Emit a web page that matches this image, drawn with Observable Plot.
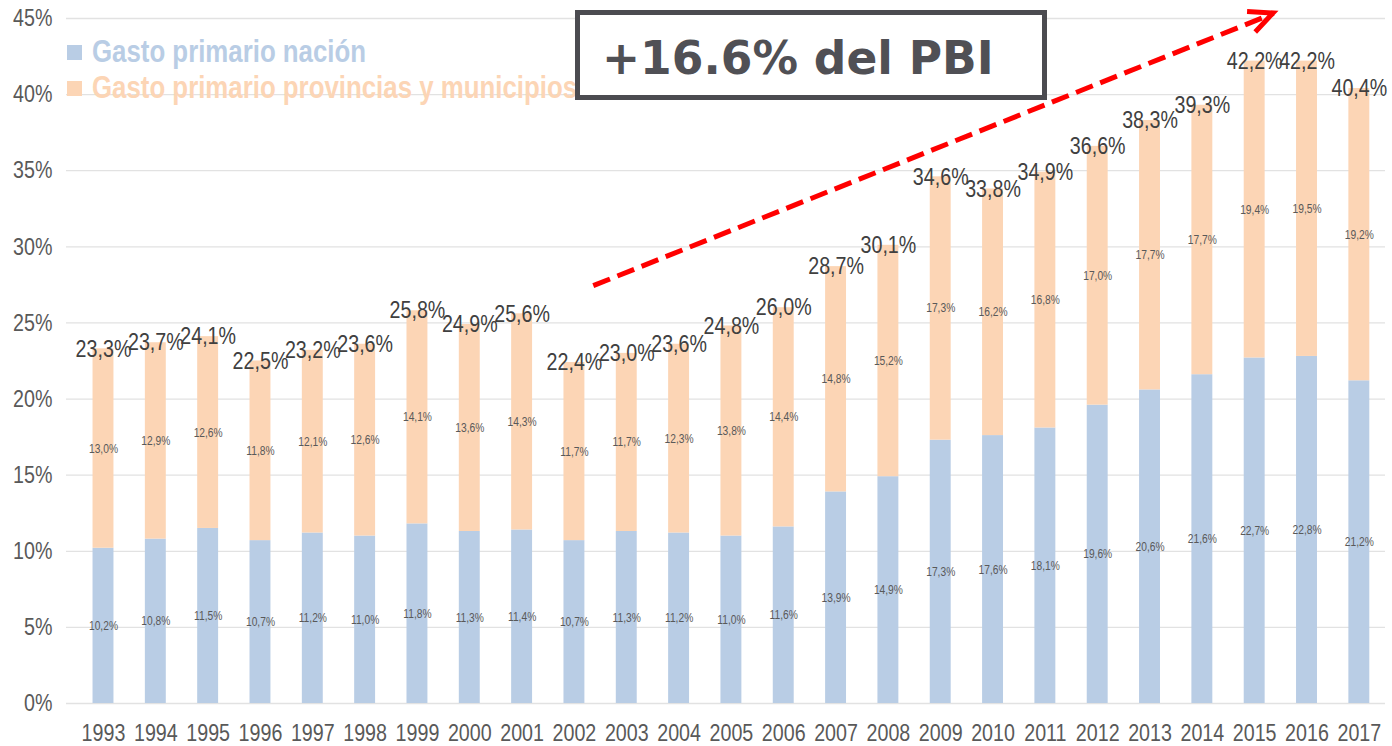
<!DOCTYPE html>
<html>
<head>
<meta charset="utf-8">
<script src="https://cdn.jsdelivr.net/npm/d3@7"></script>
<script src="https://cdn.jsdelivr.net/npm/@observablehq/plot@0.6"></script>
<style>
  html, body { margin: 0; padding: 0; background: #fff; }
  #wrap { position: relative; width: 1392px; height: 746px; overflow: hidden; }
  #wrap > svg { position: absolute; left: 0; top: 0; }
</style>
</head>
<body>
<div id="wrap"></div>
<script>
// ---- data ----
const years = [1993, 1994, 1995, 1996, 1997, 1998, 1999, 2000, 2001, 2002, 2003, 2004, 2005,
               2006, 2007, 2008, 2009, 2010, 2011, 2012, 2013, 2014, 2015, 2016, 2017];
const nacion = [10.2, 10.8, 11.5, 10.7, 11.2, 11.0, 11.8, 11.3, 11.4, 10.7, 11.3, 11.2, 11.0,
                11.6, 13.9, 14.9, 17.3, 17.6, 18.1, 19.6, 20.6, 21.6, 22.7, 22.8, 21.2];
const provincias = [13.0, 12.9, 12.6, 11.8, 12.1, 12.6, 14.1, 13.6, 14.3, 11.7, 11.7, 12.3, 13.8,
                    14.4, 14.8, 15.2, 17.3, 16.2, 16.8, 17.0, 17.7, 17.7, 19.4, 19.5, 19.2];
const totales = [23.3, 23.7, 24.1, 22.5, 23.2, 23.6, 25.8, 24.9, 25.6, 22.4, 23.0, 23.6, 24.8,
                 26.0, 28.7, 30.1, 34.6, 33.8, 34.9, 36.6, 38.3, 39.3, 42.2, 42.2, 40.4];
const yTicks = [0, 5, 10, 15, 20, 25, 30, 35, 40, 45];
const series = ["Gasto primario nación", "Gasto primario provincias y municipios"];
const seriesColors = ["#b9cde5", "#fcd5b5"];
const annotationText = "+16.6% del PBI";
const arrowFrom = {year: 2002.36, pct: 27.45};
const arrowTo = {year: 2015.36, pct: 45.33};

// ---- font detection ----
function hasFont(name) {
  const c = document.createElement("canvas").getContext("2d");
  const s = "Gasto primario 1993 45% nación";
  c.font = "40px monospace";
  const a = c.measureText(s).width;
  c.font = `40px "${name}", monospace`;
  const b = c.measureText(s).width;
  return Math.abs(a - b) > 0.5;
}
const narrow = hasFont("Liberation Sans Narrow");
const FONT = narrow ? '"Liberation Sans Narrow", "Liberation Sans", Arial, sans-serif'
                    : '"Liberation Sans", Arial, sans-serif';

// ---- derived tables ----
const fmt = v => v.toFixed(1).replace(".", ",") + "%";
const rows = years.map((y, i) => ({year: y, nac: nacion[i], prov: provincias[i], total: totales[i]}));
const segs = rows.flatMap(r => [
  {year: r.year, serie: series[0], y1: 0, y2: r.nac, v: r.nac},
  {year: r.year, serie: series[1], y1: r.nac, y2: r.total, v: r.prov}
]);
const half = 0.2;

function arrowHead(index, scales) {
  const x1 = scales.x(arrowFrom.year), y1 = scales.y(arrowFrom.pct);
  const x2 = scales.x(arrowTo.year), y2 = scales.y(arrowTo.pct);
  const a = Math.atan2(y1 - y2, x1 - x2);
  const L = 26, w = 25 * Math.PI / 180;
  const p1 = [x2 + L * Math.cos(a + w), y2 + L * Math.sin(a + w)];
  const p2 = [x2 + L * Math.cos(a - w), y2 + L * Math.sin(a - w)];
  const path = document.createElementNS("http://www.w3.org/2000/svg", "path");
  path.setAttribute("d", `M${p1[0]},${p1[1]}L${x2},${y2}L${p2[0]},${p2[1]}`);
  path.setAttribute("fill", "none");
  path.setAttribute("stroke", "#ff0000");
  path.setAttribute("stroke-width", 5);
  path.setAttribute("stroke-linejoin", "miter");
  return path;
}

const chart = Plot.plot({
  width: 1392, height: 746,
  marginLeft: 66, marginRight: 7, marginTop: 18, marginBottom: 43,
  x: {domain: [1992.293, 2017.5]},
  y: {domain: [0, 45]},
  color: {domain: series, range: seriesColors},
  style: {fontFamily: FONT, color: "#595959", background: "transparent", overflow: "visible"},
  marks: [
    Plot.ruleY(yTicks, {stroke: "#e2e2e2", strokeWidth: 1.3}),
    Plot.rectY(segs, {x1: d => d.year - half, x2: d => d.year + half, y1: "y1", y2: "y2", fill: "serie"}),
    Plot.text(segs, {x: "year", y: d => (d.y1 + d.y2) / 2, text: d => fmt(d.v), fontSize: 12.5, fill: "#595959"}),
    Plot.text(rows, {x: "year", y: "total", text: d => fmt(d.total), fontSize: 24, fill: "#404040"}),
    Plot.axisY({ticks: yTicks, tickFormat: d => d + "%", tickSize: 0, tickPadding: 14, fontSize: 24, label: null}),
    Plot.axisX({ticks: years, tickFormat: d => String(d), tickSize: 0, tickPadding: 20, fontSize: 24, label: null}),
    Plot.link([{x1: arrowFrom.year, y1: arrowFrom.pct, x2: arrowTo.year, y2: arrowTo.pct}],
      {x1: "x1", y1: "y1", x2: "x2", y2: "y2", stroke: "#ff0000", strokeWidth: 5, strokeDasharray: "18,8"}),
    arrowHead
  ]
});

const wrap = document.getElementById("wrap");
wrap.appendChild(chart);

// ---- overlay: legend + annotation box ----
const ov = d3.create("svg").attr("width", 1392).attr("height", 746)
  .attr("viewBox", "0 0 1392 746").style("position", "absolute").style("left", 0).style("top", 0);
const leg = ov.append("g").attr("font-family", FONT).attr("font-weight", "bold").attr("font-size", 31.5);
series.forEach((s, i) => {
  const base = [62, 98][i];
  leg.append("rect").attr("x", 67).attr("y", base - 17).attr("width", 15).attr("height", 15).attr("fill", seriesColors[i]);
  leg.append("text").attr("class", "nar").attr("x", 92).attr("y", base).attr("fill", seriesColors[i]).text(s);
});
ov.append("rect").attr("x", 577.5).attr("y", 12.5).attr("width", 467).attr("height", 85)
  .attr("fill", "#fff").attr("stroke", "#4b4b50").attr("stroke-width", 5);
ov.append("text").attr("x", 602).attr("y", 74).attr("font-family", '"DejaVu Sans", Verdana, sans-serif')
  .attr("font-weight", "bold").attr("font-size", 45.5).attr("fill", "#505055").text(annotationText);
wrap.appendChild(ov.node());

// ---- emulate condensed font if Narrow not installed ----
if (!narrow) {
  const texts = [...chart.querySelectorAll("text"), ...ov.node().querySelectorAll("text.nar")];
  for (const t of texts) {
    const x = +(t.getAttribute("x") || 0);
    const tr = t.getAttribute("transform") || "";
    t.setAttribute("x", 0);
    t.setAttribute("transform", `${tr} translate(${x},0) scale(0.82,1)`);
  }
}
</script>
</body>
</html>
